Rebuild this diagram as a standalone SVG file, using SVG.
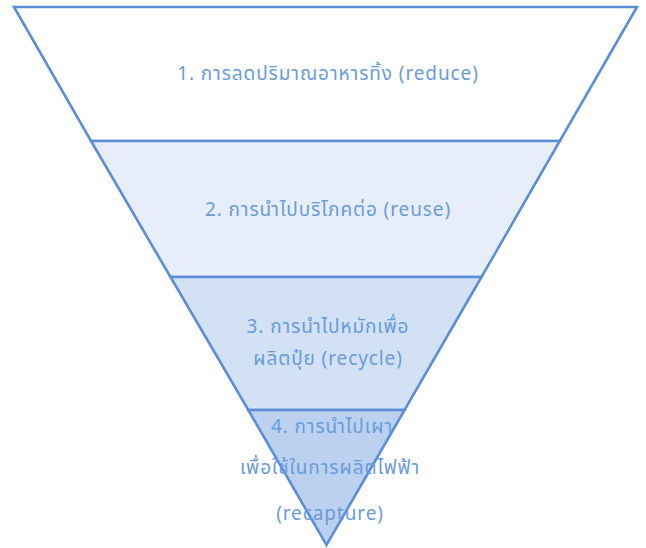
<svg xmlns="http://www.w3.org/2000/svg" width="646" height="548" viewBox="0 0 646 548">
<style>
.band{stroke:#5b8ed6;stroke-width:2.6;stroke-linejoin:miter}
.lbl{font-family:"Noto Sans Thai","Noto Sans","DejaVu Sans",sans-serif;font-size:19px;letter-spacing:0.9px;fill:#6a9bdb;text-anchor:middle}
</style>
<rect width="646" height="548" fill="#ffffff"/>
<g id="band1">
<polygon class="band" fill="#ffffff" points="14,7 637,7 559.8,141 91,141"/>
<text class="lbl" x="328" y="80">1. การลดปริมาณอาหารทิ้ง (reduce)</text>
</g>
<g id="band2">
<polygon class="band" fill="#e7eef9" points="91,141 559.8,141 481.5,277 170.5,277"/>
<text class="lbl" x="328" y="216">2. การนำไปบริโภคต่อ (reuse)</text>
</g>
<g id="band3">
<polygon class="band" fill="#d3e1f4" points="170.5,277 481.5,277 404.6,410 248.3,410"/>
<text class="lbl" x="328" y="333">3. การนำไปหมักเพื่อ</text>
<text class="lbl" x="328" y="365">ผลิตปุ๋ย (recycle)</text>
</g>
<g id="band4">
<polygon class="band" fill="#bbd1ef" points="248.3,410 404.6,410 326.5,545"/>
<text class="lbl" x="332" y="433">4. การนำไปเผา</text>
<text class="lbl" x="330" y="474">เพื่อใช้ในการผลิตไฟฟ้า</text>
<text class="lbl" x="330" y="520">(recapture)</text>
</g>
</svg>
